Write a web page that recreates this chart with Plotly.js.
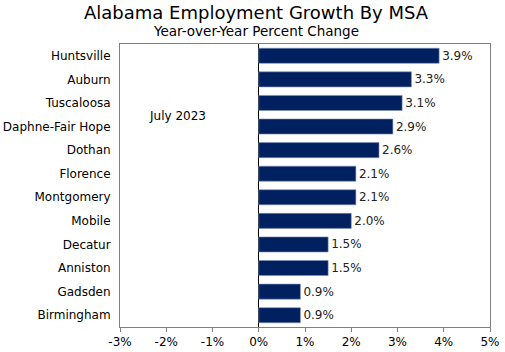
<!DOCTYPE html>
<html><head><meta charset="utf-8">
<script src="https://cdn.plot.ly/plotly-3.0.1.min.js"></script>
<style>html,body{margin:0;padding:0;background:#fff;}#chart{width:505px;height:352px;}</style>
</head><body><div id="chart"></div>
<script>
const categories = ["Huntsville","Auburn","Tuscaloosa","Daphne-Fair Hope","Dothan","Florence","Montgomery","Mobile","Decatur","Anniston","Gadsden","Birmingham"];
const values = [3.9,3.3,3.1,2.9,2.6,2.1,2.1,2.0,1.5,1.5,0.9,0.9];
const xTicks = [-3,-2,-1,0,1,2,3,4,5];
const xTickLabels = xTicks.map(v => v + "%");
const labels = values.map(v => v.toFixed(1) + "%");
const titleText = "Alabama Employment Growth By MSA";
const subtitleText = "Year-over-Year Percent Change";
const font = "DejaVu Sans, Verdana, sans-serif";

const trace = {
  type: "bar", orientation: "h",
  x: values, y: categories,
  marker: {color: "#002060", line: {color: "#8090b8", width: 0.6}},
  text: labels, textposition: "outside", cliponaxis: false,
  textfont: {family: font, size: 12, color: "#222"},
  hoverinfo: "none"
};
const layout = {
  width: 505, height: 352,
  margin: {l: 120, r: 15, t: 44, b: 25},
  paper_bgcolor: "#fff", plot_bgcolor: "#fff",
  font: {family: font, size: 12, color: "#000"},
  showlegend: false,
  bargap: 0.36,
  xaxis: {range: [-3, 5], tickvals: xTicks, ticktext: xTickLabels, showgrid: false,
    zeroline: true, zerolinecolor: "#000", zerolinewidth: 1,
    showline: true, linecolor: "#808080", linewidth: 1, mirror: true,
    ticks: "outside", ticklen: 4, tickcolor: "#808080",
    tickfont: {family: font, size: 12, color: "#000"}, fixedrange: true},
  yaxis: {categoryorder: "array", categoryarray: categories, autorange: "reversed",
    showgrid: false, showline: true, linecolor: "#808080", linewidth: 1, mirror: true,
    ticks: "", ticklabelstandoff: 6, tickfont: {family: font, size: 12, color: "#000"}, fixedrange: true},
  annotations: [
    {x: -1.75, y: 2.55, xref: "x", yref: "y", text: "July 2023", showarrow: false,
     font: {family: font, size: 12, color: "#000"}},
    {x: 0.368, y: 1, xref: "paper", yref: "paper", xanchor: "center", yanchor: "bottom", yshift: 19,
     text: titleText, showarrow: false, font: {family: font, size: 18, color: "#000"}},
    {x: 0.368, y: 1, xref: "paper", yref: "paper", xanchor: "center", yanchor: "bottom", yshift: 3,
     text: subtitleText, showarrow: false, font: {family: font, size: 13.5, color: "#000"}}
  ]
};
Plotly.newPlot("chart", [trace], layout, {displayModeBar: false, staticPlot: true});
</script></body></html>
